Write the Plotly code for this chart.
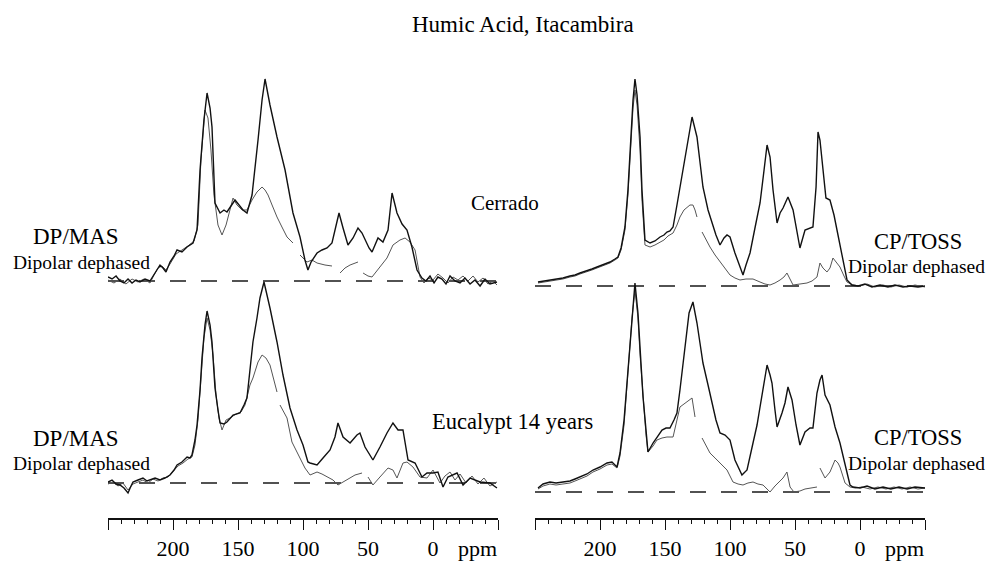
import plotly.graph_objects as go

# ---- data (ppm, intensity above baseline) ----

# Cerrado, DP/MAS
cer_dp_ppm = [250.0, 246.9, 243.8, 240.8, 237.7, 234.6, 231.5, 228.5, 225.4, 221.5, 217.7, 215.4, 212.3, 210.0,
              207.7, 205.4, 202.3, 199.2, 196.9, 193.1, 189.2, 184.6, 181.5, 179.2, 176.2, 173.8, 171.5, 170.0,
              167.7, 163.8, 160.8, 158.5, 155.4, 152.3, 149.2, 146.2, 143.1, 139.2, 134.6, 131.5, 129.2, 125.4,
              120.0, 113.8, 107.7, 102.3, 98.5, 96.2, 93.8, 89.2, 85.4, 81.5, 77.7, 74.6, 72.3, 69.2, 65.4, 61.5,
              57.7, 54.6, 52.3, 49.2, 46.9, 44.6, 42.3, 38.5, 34.6, 33.1, 31.5, 29.2, 27.7, 23.8, 20.0, 16.2, 12.3,
              8.5, 5.4, 2.3, -0.8, -3.8, -6.9, -10.0, -13.1, -16.9, -20.8, -24.6, -28.5, -32.3, -36.2, -40.0,
              -43.8, -49.2]
cer_dp_int = [4, 2, 5, 0, -2, 2, -2, 1, -1, 2, 0, 5, 11, 16,
              13, 9, 19, 25, 31, 29, 34, 38, 51, 111, 161, 188, 173, 154,
              78, 68, 71, 69, 75, 81, 76, 71, 68, 86, 141, 181, 202, 176,
              144, 111, 68, 44, 21, 11, 19, 28, 31, 33, 38, 56, 68, 53, 36, 43,
              53, 48, 41, 33, 29, 36, 43, 39, 51, 69, 88, 76, 68, 57, 51, 34, 11,
              3, 0, 5, -2, 4, 2, -3, 5, 0, -2, 3, -3, 1, -5, 2,
              -3, -1]

cer_dp_dd_ppm = [250.0, 245.4, 240.8, 236.2, 231.5, 226.9, 222.3, 217.7, 214.6, 211.5, 208.5, 205.4, 202.3, 197.7,
                 193.1, 188.5, 183.8, 180.8, 178.5, 175.4, 173.1, 170.8, 168.5, 165.4, 162.3, 159.2, 156.2, 153.8,
                 150.8, 146.9, 143.1, 139.2, 135.4, 131.5, 129.2, 126.9, 123.8, 120.0, 116.2, 112.3, 107.7, None,
                 102.3, 96.9, 93.1, 89.2, 83.1, 77.7, None, 71.5, 67.7, 63.8, 57.7, None, 53.8, 50.0, 46.9, 43.8,
                 40.8, 35.4, 30.8, 25.4, 21.5, 17.7, 13.8, 10.0, 6.9, 3.8, 0.0, -3.8, -7.7, -11.5, -15.4, -19.2,
                 -23.1, -26.9, -30.8, -34.6, -38.5, -42.3, -46.2, -49.2]
cer_dp_dd_int = [1, -2, 2, -3, 2, -1, 2, -2, 6, 13, 15, 11, 17, 27,
                 31, 35, 40, 56, 121, 171, 163, 131, 86, 56, 46, 56, 71, 83,
                 76, 71, 71, 81, 89, 94, 91, 86, 76, 64, 54, 44, 38, None,
                 26, 19, 21, 18, 16, 15, None, 8, 13, 16, 19, None, 8, 5, 4, 9,
                 14, 23, 36, 41, 43, 39, 31, 4, -2, 3, 1, 7, 3, -2, 4, 1,
                 5, 0, 5, -1, 3, -3, 0, -4]

# Cerrado, CP/TOSS
cer_cp_ppm = [247.7, 242.3, 236.9, 232.3, 228.5, 223.1, 219.2, 215.4, 210.0, 206.2, 202.3, 197.7, 192.3, 188.5,
              186.2, 183.8, 180.8, 178.5, 176.9, 174.6, 173.1, 171.5, 169.2, 167.7, 165.4, 161.5, 157.7, 153.8,
              150.8, 148.5, 146.2, 143.8, 140.8, 138.5, 135.4, 133.1, 129.2, 125.4, 123.1, 120.8, 116.9, 113.8,
              110.8, 107.7, 104.6, 102.3, 100.0, 96.2, 92.3, 90.0, 87.7, 84.6, 80.8, 76.9, 73.8, 71.5, 69.2, 66.9,
              63.8, 61.5, 59.2, 55.4, 51.5, 48.5, 46.2, 42.3, 38.5, 36.2, 33.8, 32.3, 30.8, 29.2, 26.2, 23.1, 20.0,
              17.7, 13.8, 10.0, 6.2, 1.5, -3.8, -9.2, -15.4, -21.5, -26.9, -33.1, -38.5, -44.6, -50.0]
cer_cp_int = [4, 5, 6, 7, 8, 10, 11, 13, 15, 17, 19, 21, 24, 27,
              29, 38, 59, 96, 133, 186, 207, 191, 149, 96, 46, 43, 45, 49,
              51, 54, 55, 59, 81, 99, 121, 139, 169, 149, 126, 99, 76, 63,
              51, 41, 48, 51, 49, 33, 18, 11, 21, 33, 58, 83, 116, 141, 129, 96,
              63, 73, 78, 89, 76, 56, 38, 56, 58, 59, 99, 154, 146, 126, 88, 86, 71,
              56, 29, 6, 1, 0, 2, -1, 1, -1, 1, -1, 0, -1, 0]

cer_cp_dd_ppm = [247.7, 242.3, 236.9, 232.3, 228.5, 223.1, 219.2, 215.4, 210.0, 206.2, 202.3, 197.7, 192.3, 188.5,
                 186.2, 183.8, 180.8, 178.5, 176.9, 174.6, 173.1, 171.5, 169.2, 167.7, 165.4, 161.5, 157.7, 153.8,
                 150.8, 147.7, 143.8, 140.8, 138.5, 135.4, 133.1, 130.8, 128.5, 126.9, 125.4, None, 121.5, 118.5,
                 115.4, 111.5, 107.7, 103.8, 100.0, 96.2, 92.3, 87.7, 82.3, 76.9, 73.1, 69.2, 65.4, 61.5, 58.5, 56.2,
                 53.8, 51.5, 46.2, 40.8, 36.9, 33.1, 30.8, 28.5, 25.4, 23.1, 20.8, 18.5, 15.4, 12.3, 10.0, 5.4, 0.0,
                 -5.4, -11.5, -17.7, -23.8, -30.0, -36.2, -42.3, -50.0]
cer_cp_dd_int = [3, 4, 5, 6, 7, 9, 10, 12, 14, 16, 18, 20, 23, 26,
                 28, 36, 56, 91, 126, 178, 196, 181, 136, 86, 41, 39, 41, 44,
                 46, 50, 53, 61, 69, 76, 79, 81, 81, 76, 69, None, 54, 46,
                 39, 31, 24, 18, 11, 8, 6, 7, 7, 4, 2, 1, 3, 6, 9, 13,
                 6, 1, 2, 3, 5, 9, 23, 18, 14, 18, 28, 24, 19, 10, 4, 1, 0,
                 2, -1, 1, -1, 1, -1, 1, -1]

# Eucalypt 14 years, DP/MAS
euc_dp_ppm = [250.0, 246.9, 243.8, 240.8, 237.7, 234.6, 232.3, 230.8, 226.9, 223.1, 220.0, 217.7, 213.8, 210.0,
              206.2, 202.3, 199.2, 196.9, 193.1, 189.2, 186.9, 185.4, 183.1, 181.5, 179.2, 177.7, 175.4, 173.8,
              171.5, 170.0, 167.7, 165.4, 163.8, 160.8, 158.5, 153.8, 148.5, 145.4, 143.1, 140.8, 138.5, 135.4,
              133.1, 130.0, 127.7, 125.4, 120.0, 115.4, 110.0, 104.6, 100.0, 96.2, 94.6, 89.2, 84.6, 79.2, 75.4,
              73.1, 69.2, 63.8, 58.5, 56.2, 52.3, 46.2, 40.8, 35.4, 30.8, 26.9, 23.1, 19.2, 13.8, 8.5, 4.6, 0.0,
              -3.8, -7.7, -11.5, -18.5, -23.1, -28.5, -36.2, -43.8, -49.2]
euc_dp_int = [1, 3, -1, -2, -5, -10, -3, 1, 3, 5, 2, 3, 5, 3,
              5, 8, 13, 18, 21, 26, 25, 28, 43, 58, 93, 125, 158, 172,
              158, 141, 95, 73, 60, 59, 61, 68, 70, 78, 85, 113, 141, 165,
              185, 201, 188, 175, 141, 108, 75, 53, 38, 21, 20, 18, 25, 33, 46,
              60, 46, 40, 48, 50, 36, 23, 36, 50, 60, 53, 53, 23, 20, 6, 10, 10,
              11, -4, 6, 10, -2, 5, 1, 0, -5]

euc_dp_dd_ppm = [250.0, 246.2, 242.3, 238.5, 234.6, 230.8, 226.9, 223.1, 219.2, 215.4, 211.5, 207.7, 203.8, 200.0,
                 196.2, 192.3, 188.5, 185.4, 183.1, 180.8, 178.5, 176.2, 173.8, 171.5, 169.2, 166.9, 164.6, 162.3,
                 159.2, 156.2, 151.5, 147.7, 144.6, 140.8, 138.5, 134.6, 131.5, 128.5, 125.4, 122.3, 120.0, None,
                 117.7, 112.3, 108.5, 104.6, 98.5, 94.6, 89.2, 85.4, 81.5, 76.9, 73.1, 69.2, 66.2, 60.0, 54.6, None,
                 50.0, 46.2, 40.8, 34.6, 30.8, 27.7, 23.1, 20.0, 15.4, 10.0, 4.6, 0.0, -5.4, -9.2, -13.1, -16.9,
                 -20.8, -25.4, -30.0, -34.6, -39.2, -43.8, -49.2]
euc_dp_dd_int = [-1, 1, -3, 0, -7, -1, 1, 3, 0, 4, 2, 5, 6, 11,
                 17, 20, 24, 26, 38, 63, 103, 145, 165, 153, 128, 88, 65, 53,
                 63, 65, 69, 71, 78, 98, 105, 121, 128, 125, 118, 103, 91, None,
                 78, 65, 41, 31, 15, 8, 11, 9, 6, 3, -2, 1, 3, 8, 10, None,
                 6, -2, 6, 15, 13, 5, 20, 21, 16, 6, 5, 13, 0, 7, 11, 3,
                 9, 0, 7, -1, 5, -3, 1]

# Eucalypt 14 years, CP/TOSS
euc_cp_ppm = [247.7, 243.8, 238.5, 233.8, 228.5, 223.1, 219.2, 215.4, 210.0, 205.4, 200.0, 194.6, 190.8, 186.9,
              184.6, 181.5, 179.2, 176.9, 175.4, 173.1, 170.8, 169.2, 166.9, 164.6, 163.1, 159.2, 155.4, 152.3,
              149.2, 146.2, 143.1, 140.8, 138.5, 136.2, 133.8, 131.5, 128.5, 125.4, 123.1, 120.8, 116.9, 113.8,
              110.8, 107.7, 103.8, 100.0, 96.2, 90.8, 86.9, 82.3, 79.2, 76.9, 73.8, 71.5, 69.2, 67.7, 65.4, 63.8,
              60.0, 57.7, 55.4, 52.3, 49.2, 46.2, 42.3, 38.5, 36.2, 33.1, 30.8, 29.2, 26.9, 23.1, 19.2, 15.4, 12.3,
              10.0, 7.7, 5.4, 0.0, -5.4, -11.5, -17.7, -23.8, -30.0, -36.2, -42.3, -50.0]
euc_cp_int = [4, 8, 10, 9, 10, 11, 13, 15, 18, 22, 25, 29, 30, 25,
              39, 72, 112, 152, 179, 209, 179, 142, 95, 62, 40, 49, 56, 62,
              64, 64, 72, 79, 102, 129, 157, 179, 190, 169, 149, 129, 107, 89,
              72, 59, 57, 52, 32, 17, 22, 49, 67, 85, 107, 127, 117, 109, 82, 65,
              79, 89, 105, 92, 67, 47, 60, 64, 64, 99, 112, 117, 97, 87, 65, 49, 32,
              19, 7, 5, 4, 6, 3, 5, 3, 5, 3, 5, 4]

euc_cp_dd_ppm = [247.7, 243.8, 238.5, 233.8, 228.5, 223.1, 219.2, 215.4, 210.0, 205.4, 200.0, 194.6, 190.8, 186.9,
                 184.6, 181.5, 179.2, 176.9, 175.4, 173.1, 170.8, 169.2, 166.9, 164.6, 163.1, 159.2, 156.2, 152.3,
                 148.5, 143.8, 140.8, 138.5, 135.4, 133.1, 129.2, 126.9, None, 121.5, 118.5, 115.4, 111.5, 107.7,
                 102.3, 97.7, 93.8, 90.0, 86.2, 82.3, 78.5, 74.6, 71.5, 69.2, 65.4, 63.1, 59.2, 56.2, 53.8, 50.8,
                 46.2, 42.3, 38.5, 33.1, None, 30.8, 28.5, 26.9, 23.1, 19.2, 16.9, 15.4, 11.5, 7.7, 3.8, -1.5, -7.7,
                 -13.8, -20.0, -26.2, -32.3, -38.5, -44.6, -50.0]
euc_cp_dd_int = [3, 6, 8, 7, 8, 9, 11, 13, 16, 20, 23, 27, 28, 24,
                 36, 67, 107, 147, 174, 202, 174, 137, 92, 57, 40, 46, 52, 54,
                 55, 55, 72, 85, 88, 90, 94, 75, None, 54, 46, 39, 34, 29,
                 22, 10, 8, 7, 9, 10, 8, 7, 3, 0, 6, 9, 14, 20, 5, 0,
                 1, 3, 4, 5, None, 24, 17, 14, 20, 32, 29, 25, 9, 5, 4, 5, 3,
                 5, 3, 5, 3, 5, 3, 4]

# zero line
baseline_ppm = [250, -50]
baseline_int = [0, 0]

# axis ticks
tick_vals = [250, 200, 150, 100, 50, 0, -50]
tick_text = ["", "200", "150", "100", "50", "0", ""]

W, H = 990, 561
SERIF = "Liberation Serif, Times New Roman, serif"


def px(x):
    return x / W


def py(y):
    return 1 - y / H


panels = [
    # xaxis, yaxis, full, dephased
    ("x", "y", (cer_dp_ppm, cer_dp_int), (cer_dp_dd_ppm, cer_dp_dd_int)),
    ("x2", "y2", (cer_cp_ppm, cer_cp_int), (cer_cp_dd_ppm, cer_cp_dd_int)),
    ("x3", "y3", (euc_dp_ppm, euc_dp_int), (euc_dp_dd_ppm, euc_dp_dd_int)),
    ("x4", "y4", (euc_cp_ppm, euc_cp_int), (euc_cp_dd_ppm, euc_cp_dd_int)),
]

fig = go.Figure()
for xa, ya, full, dd in panels:
    fig.add_trace(go.Scatter(x=baseline_ppm, y=baseline_int, xaxis=xa, yaxis=ya, mode="lines",
                             line=dict(color="#1a1a1a", width=1.3, dash="16px,15px"), hoverinfo="skip"))
    fig.add_trace(go.Scatter(x=dd[0], y=dd[1], xaxis=xa, yaxis=ya, mode="lines",
                             line=dict(color="#555555", width=1.0), connectgaps=False))
    fig.add_trace(go.Scatter(x=full[0], y=full[1], xaxis=xa, yaxis=ya, mode="lines",
                             line=dict(color="#111111", width=1.4)))

left_dom = [px(108), px(498)]
right_dom = [px(535), px(925)]
top_dom = [py(300), py(55)]
bot_dom = [py(518), py(270)]

hidden = dict(visible=False, range=[250, -50], fixedrange=True)
shown = dict(range=[250, -50], showline=True, linecolor="#111111", linewidth=1.5,
             ticks="outside", ticklen=10, tickwidth=1.3, tickcolor="#111111",
             tickmode="array", tickvals=tick_vals, ticktext=tick_text,
             tickfont=dict(family=SERIF, size=22, color="black"),
             minor=dict(ticks="outside", ticklen=4, tickwidth=1.2, tickcolor="#111111", dtick=10, tick0=0),
             showgrid=False, zeroline=False, fixedrange=True)

fig.update_layout(
    width=W, height=H,
    margin=dict(l=0, r=0, t=0, b=0),
    paper_bgcolor="white", plot_bgcolor="rgba(0,0,0,0)",
    showlegend=False,
    xaxis=dict(domain=left_dom, anchor="y", **hidden),
    xaxis2=dict(domain=right_dom, anchor="y2", **hidden),
    xaxis3=dict(domain=left_dom, anchor="y3", **shown),
    xaxis4=dict(domain=right_dom, anchor="y4", **shown),
    yaxis=dict(domain=top_dom, anchor="x", range=[-19, 226], visible=False, fixedrange=True),
    yaxis2=dict(domain=top_dom, anchor="x2", range=[-14, 231], visible=False, fixedrange=True),
    yaxis3=dict(domain=bot_dom, anchor="x3", range=[-35, 213], visible=False, fixedrange=True),
    yaxis4=dict(domain=bot_dom, anchor="x4", range=[-26, 222], visible=False, fixedrange=True),
)

labels = [
    ("Humic Acid, Itacambira", 523, 25, 23),
    ("DP/MAS", 76, 236, 23),
    ("Dipolar dephased", 81, 262, 19.5),
    ("Cerrado", 505, 203, 21),
    ("CP/TOSS", 918, 241, 22.5),
    ("Dipolar dephased", 916, 266, 19.5),
    ("DP/MAS", 76, 438, 23),
    ("Dipolar dephased", 81, 463, 19.5),
    ("Eucalypt 14 years", 512, 421, 22.5),
    ("CP/TOSS", 918, 437, 22.5),
    ("Dipolar dephased", 916, 463, 19.5),
    ("ppm", 477, 548, 22),
    ("ppm", 904, 548, 22),
]
for text, x, y, size in labels:
    fig.add_annotation(text=text, x=px(x), y=py(y), xref="paper", yref="paper",
                       xanchor="center", yanchor="middle", showarrow=False,
                       font=dict(family=SERIF, size=size, color="black"))

# page has a default body margin; drop it so the figure fills the window exactly
fig.write_html("out.html", config={"displayModeBar": False},
               post_script="document.body.style.margin='0';document.body.style.overflow='hidden';")
